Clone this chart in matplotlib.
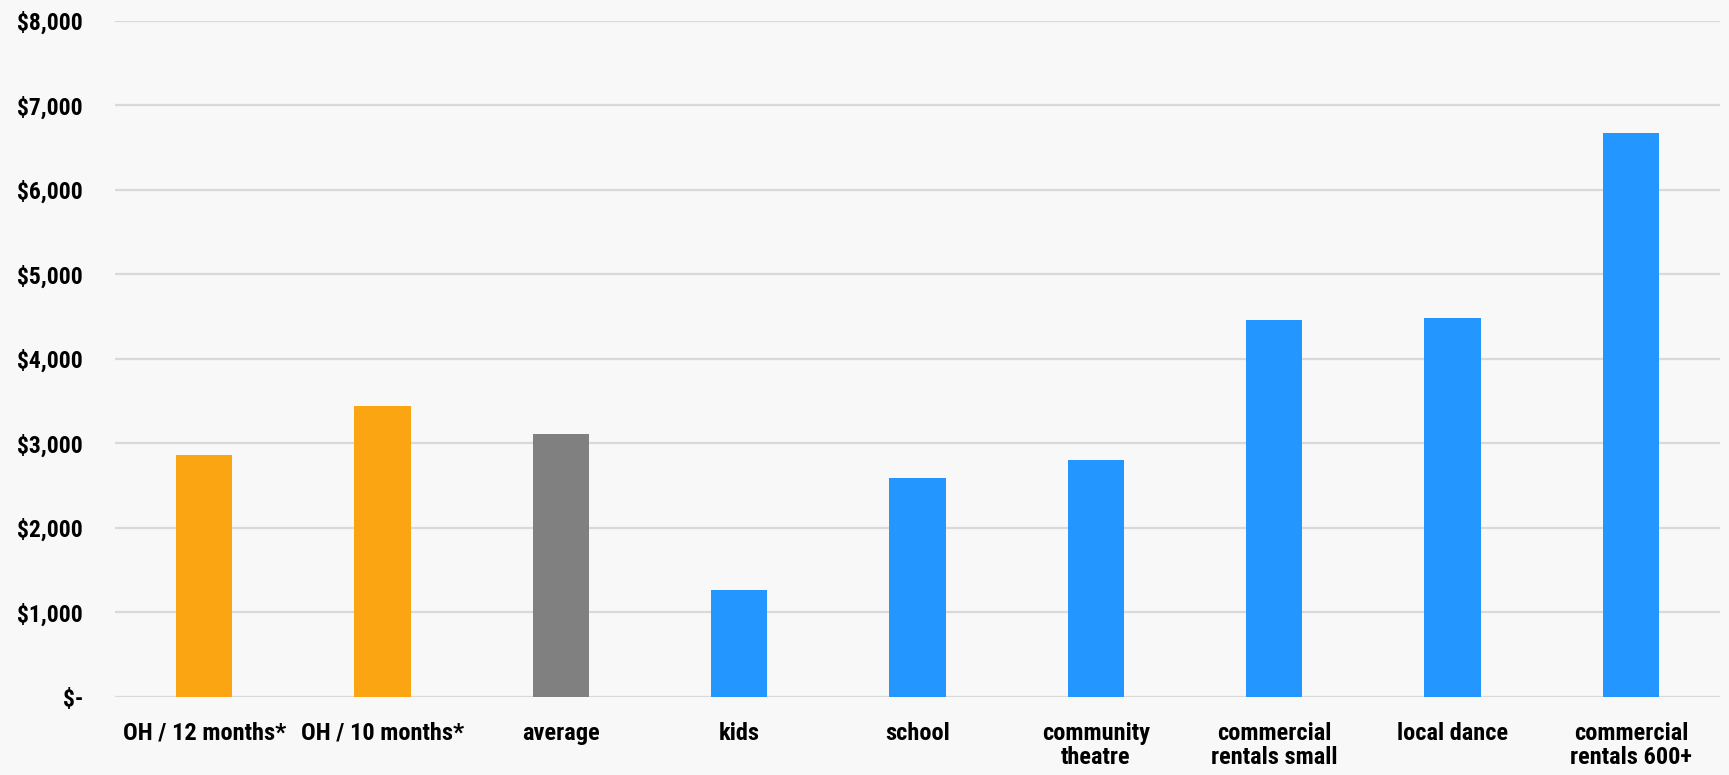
import matplotlib
matplotlib.use("Agg")
import matplotlib.pyplot as plt
from matplotlib import font_manager
from matplotlib.ticker import FuncFormatter

categories = ["OH / 12 months*", "OH / 10 months*", "average", "kids", "school",
              "community\ntheatre", "commercial\nrentals small", "local dance",
              "commercial\nrentals 600+"]
values = [2860, 3440, 3110, 1265, 2595, 2805, 4460, 4480, 6670]
colors = ["#FCA512", "#FCA512", "#808080", "#2496FF", "#2496FF", "#2496FF",
          "#2496FF", "#2496FF", "#2496FF"]
yticks = [0, 1000, 2000, 3000, 4000, 5000, 6000, 7000, 8000]

names = {f.name for f in font_manager.fontManager.ttflist}
fam = None
for cand in ["Liberation Sans Narrow", "Roboto Condensed", "Open Sans Condensed", "Roboto", "Lato"]:
    if cand in names:
        fam = cand
        break
print("font:", fam)
plt.rcParams['font.family'] = [fam, 'DejaVu Sans']

bg = "#F8F8F8"
fig = plt.figure(figsize=(17.29, 7.75), dpi=100, facecolor=bg)
ax = fig.add_axes([115/1729, 1 - 696.7/775, 1605/1729, (696.7-21)/775])
ax.set_facecolor(bg)

x = list(range(len(categories)))
ax.bar(x, values, width=0.315, color=colors, zorder=3)

ax.set_xlim(-0.5, len(categories) - 0.5)
ax.set_ylim(0, 8000)
ax.set_yticks(yticks)
ax.yaxis.set_major_formatter(FuncFormatter(lambda v, p: "$-" if v == 0 else f"${v:,.0f}"))
ax.set_xticks(x)
ax.set_xticklabels(categories, linespacing=1.1)

for s in ax.spines.values():
    s.set_visible(False)
ax.grid(axis='y', color="#D9D9D9", linewidth=1.6, zorder=0)
ax.tick_params(axis='both', length=0, colors="black")
ax.tick_params(axis='y', pad=23, labelsize=17)
ax.tick_params(axis='x', pad=18, labelsize=17.6)
for lab in ax.get_xticklabels() + ax.get_yticklabels():
    lab.set_fontweight('bold')

fig.savefig("out.png", dpi=100, facecolor=bg)
